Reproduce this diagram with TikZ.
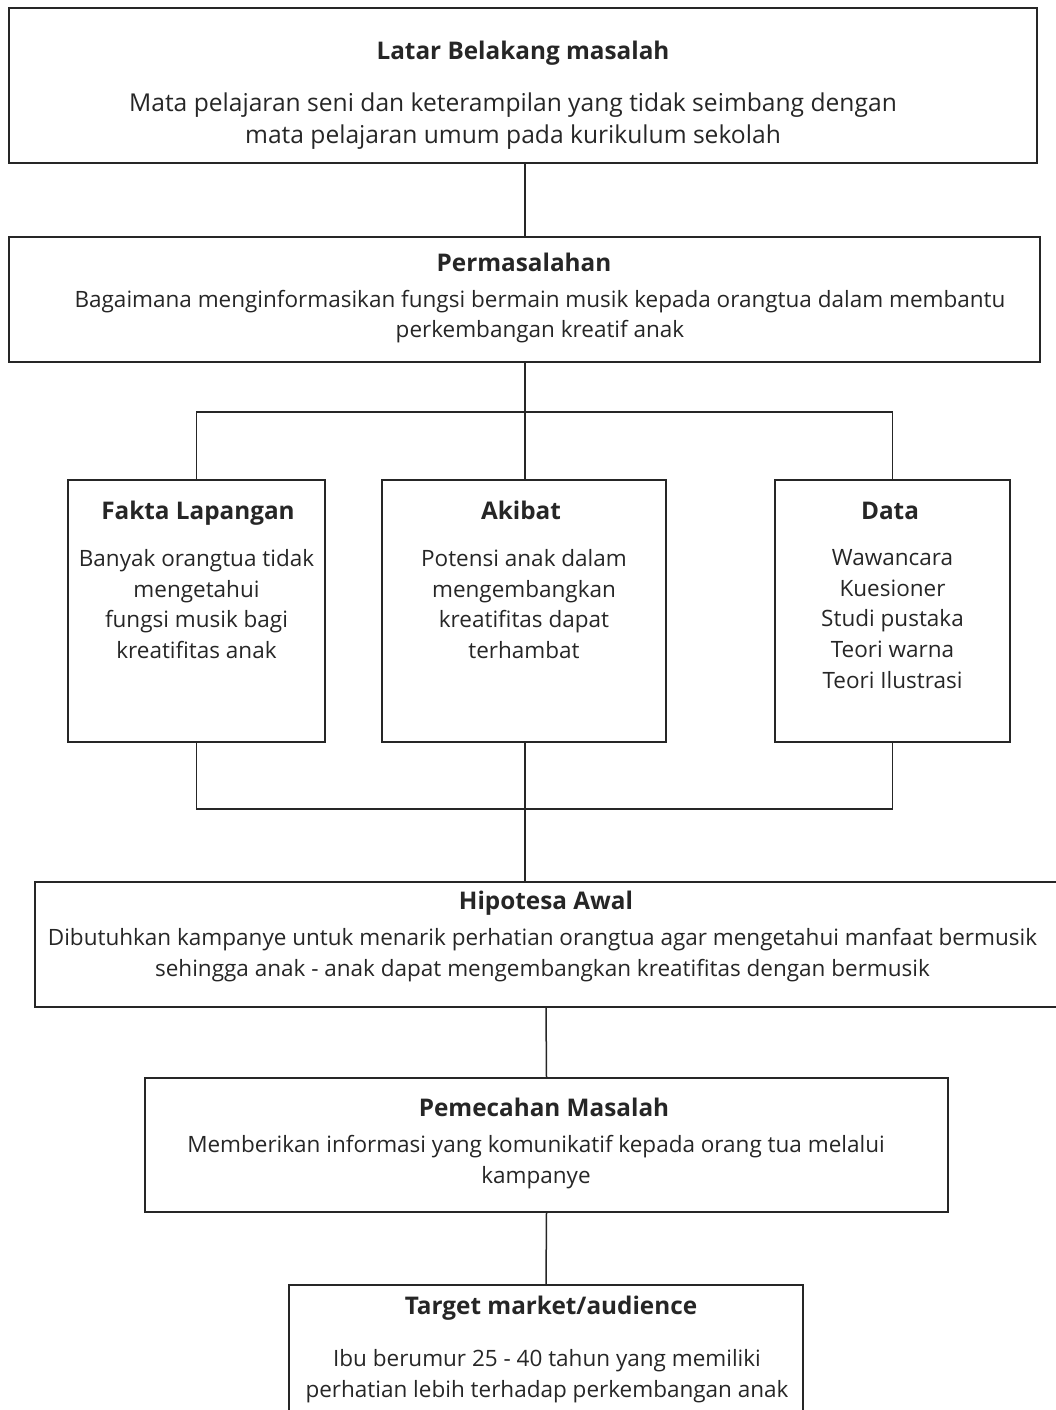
\documentclass[tikz,border=0pt]{standalone}
\usepackage{fontspec}
\setmainfont{Open Sans}
\tikzset{
  box/.style={draw=black!85, line width=1.6pt, inner sep=0pt},
  head/.style={font=\fontsize{24.3}{31}\selectfont\bfseries, text=black!85, inner sep=0pt},
  body/.style={font=\fontsize{22.5}{30.8}\selectfont, text=black!85, align=center, inner sep=0pt},
  bigbody/.style={body, font=\fontsize{24.6}{32}\selectfont},
  wire/.style={draw=black!85, line width=1.5pt}
}
\begin{document}
\begin{tikzpicture}[x = 1pt, y = -1pt]
  \useasboundingbox (0,0) rectangle (1055,1410);
  \node [box, minimum width=1028pt, minimum height=155pt] (latar) at (523,85.5) {};
  \node [head] (latarT) at (523,53) {Latar Belakang masalah};
  \node [bigbody] (latarB) at (513,121) {Mata pelajaran seni dan keterampilan yang tidak seimbang dengan\\ mata pelajaran umum pada kurikulum sekolah};
  \node [box, minimum width=1031pt, minimum height=125pt] (perma) at (524.5,299.5) {};
  \node [head] (permaT) at (524,262) {Permasalahan};
  \node [body] (permaB) at (540,316.5) {Bagaimana menginformasikan fungsi bermain musik kepada orangtua dalam membantu\\ perkembangan kreatif anak};
  \node [box, minimum width=257pt, minimum height=262pt] (fakta) at (196.5,611) {};
  \node [head, anchor=base] (faktaT) at (198,519) {Fakta Lapangan};
  \node [body, anchor=north] (faktaB) at (196.5,549) {Banyak orangtua tidak\\ mengetahui\\ fungsi musik bagi\\ kreatifitas anak};
  \node [box, minimum width=284pt, minimum height=262pt] (akibat) at (524,611) {};
  \node [head, anchor=base] (akibatT) at (521,519) {Akibat};
  \node [body, anchor=north] (akibatB) at (524,549) {Potensi anak dalam\\ mengembangkan\\ kreatifitas dapat\\ terhambat};
  \node [box, minimum width=235pt, minimum height=262pt] (data) at (892.5,611) {};
  \node [head, anchor=base] (dataT) at (890,519) {Data};
  \node [body, anchor=north] (dataB) at (892.5,549) {Wawancara\\ Kuesioner\\ Studi pustaka\\ Teori warna\\ Teori Ilustrasi};
  \node [box, minimum width=1022pt, minimum height=125pt] (hipo) at (546,944.5) {};
  \node [head] (hipoT) at (546,903) {Hipotesa Awal};
  \node [body] (hipoB) at (542.5,955) {Dibutuhkan kampanye untuk menarik perhatian orangtua agar mengetahui manfaat bermusik\\ sehingga anak - anak dapat mengembangkan kreatifitas dengan bermusik};
  \node [box, minimum width=803pt, minimum height=134pt] (pemec) at (546.5,1145) {};
  \node [head] (pemecT) at (544,1107) {Pemecahan Masalah};
  \node [body] (pemecB) at (536,1162) {Memberikan informasi yang komunikatif kepada orang tua melalui\\ kampanye};
  \node [box, minimum width=514pt, minimum height=150pt] (target) at (546,1360) {};
  \node [head] (targetT) at (551,1308) {Target market/audience};
  \node [body] (targetB) at (547,1376) {Ibu berumur 25 - 40 tahun yang memiliki\\ perhatian lebih terhadap perkembangan anak};
  \coordinate (splitT) at (525,412);
  \coordinate (joinB) at (525,809);
  \draw [wire] (latar.south -| splitT) -- (perma.north -| splitT);
  \draw [wire] (perma.south -| splitT) -- (splitT);
  \draw [wire] (fakta.north) -- (fakta.north |- splitT) -- (data.north |- splitT) -- (data.north);
  \draw [wire] (splitT) -- (akibat.north -| splitT);
  \draw [wire] (fakta.south) -- (fakta.south |- joinB) -- (data.south |- joinB) -- (data.south);
  \draw [wire] (akibat.south -| joinB) -- (hipo.north -| joinB);
  \draw [wire] (hipo.south) -- (pemec.north);
  \draw [wire] (pemec.south) -- (target.north);
\end{tikzpicture}
\end{document}
